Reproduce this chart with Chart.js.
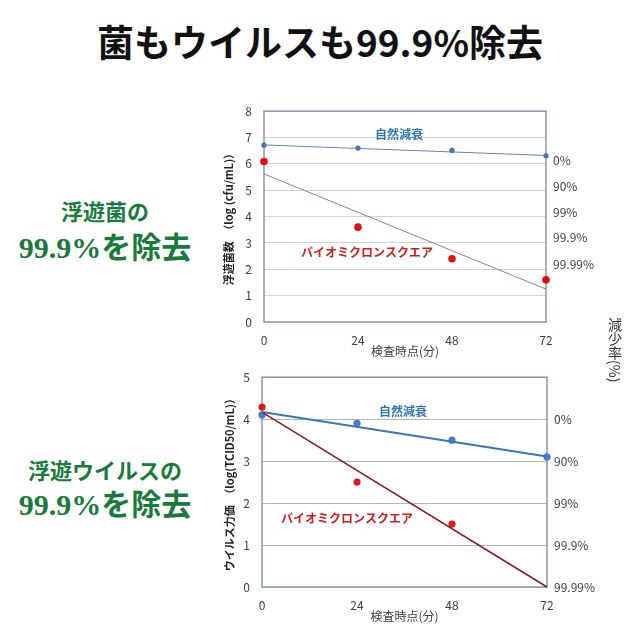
<!DOCTYPE html>
<html lang="ja">
<head>
<meta charset="utf-8">
<title>菌もウイルスも99.9%除去</title>
<script src="https://cdn.jsdelivr.net/npm/chart.js@4.4.1/dist/chart.umd.min.js"></script>
<style>
  html, body { margin: 0; padding: 0; background: #fff; }
  body { width: 640px; height: 640px; position: relative; overflow: hidden; font-family: "Noto Sans CJK JP", sans-serif; }
  .title { position: absolute; left: 0; top: 16px; width: 640px; text-align: center; font-size: 37px; font-weight: 700; line-height: 50px; color: #111; }
  .lead { position: absolute; left: 0; width: 210px; text-align: center; color: #1a7a3c; font-weight: 700; white-space: nowrap;
          font-family: "Liberation Serif", "DejaVu Serif", "Noto Sans CJK JP", serif; }
  .lead.small { font-size: 22px; line-height: 30px; }
  .lead.big { font-size: 30px; line-height: 40px; }
  .box { position: absolute; }
  .rate { position: absolute; left: 605px; top: 318px; writing-mode: vertical-rl; font-size: 14px; color: #333; }
</style>
</head>
<body>
<div class="title">菌もウイルスも99.9%除去</div>

<div class="lead small" style="top:198px">浮遊菌の</div>
<div class="lead big" style="top:228px">99.9%を除去</div>
<div class="lead small" style="top:457px">浮遊ウイルスの</div>
<div class="lead big" style="top:485px">99.9%を除去</div>

<div class="box" style="left:210px; top:92px; width:420px; height:273px;"><canvas id="bacteriaChart"></canvas></div>
<div class="box" style="left:208px; top:358px; width:420px; height:272px;"><canvas id="virusChart"></canvas></div>
<div class="rate">減少率(%)</div>

<script>
// x axis: inspection time (min)
const timePoints = [0, 24, 48, 72];
const trendEnds = [0, 72];
const reductionLabels = ['0%', '90%', '99%', '99.9%', '99.99%'];

// 浮遊菌 (log cfu/mL)
const bacNatural = [6.71, 6.60, 6.51, 6.31];
const bacNaturalTrend = [6.72, 6.32];
const bacBiomicron = [6.09, 3.60, 2.40, 1.60];
const bacBiomicronTrend = [5.62, 1.25];
const bacReductionPos = [6.15, 5.15, 4.15, 3.2, 2.2];

// 浮遊ウイルス (log TCID50/mL)
const virNatural = [4.10, 3.90, 3.50, 3.10];
const virNaturalTrend = [4.17, 3.11];
const virBiomicron = [4.29, 2.50, 1.50];
const virBiomicronTrend = [4.17, 0];
const virReductionPos = [4, 3, 2, 1, 0];

const FONT = '"Noto Sans CJK JP", "Noto Sans", sans-serif';
const TICK = '#404040';

function pts(xs, ys) {
    return ys.map((y, i) => ({ x: xs[i], y: y }));
}

// plot frame, drawn under the marks
const frame = {
    id: 'frame',
    beforeDatasetsDraw(chart, args, opts) {
        const a = chart.chartArea;
        const ctx = chart.ctx;
        ctx.save();
        ctx.strokeStyle = opts.color;
        ctx.lineWidth = 1.5;
        ctx.strokeRect(a.left, a.top, a.right - a.left, a.bottom - a.top);
        ctx.restore();
    }
};

// in-plot labels placed in data units
const annotate = {
    id: 'annotate',
    afterDatasetsDraw(chart, args, opts) {
        const { ctx, scales: { x, y } } = chart;
        ctx.save();
        ctx.font = 'bold 12px ' + FONT;
        ctx.textAlign = 'center';
        ctx.textBaseline = 'middle';
        opts.items.forEach(it => {
            ctx.fillStyle = it.color;
            ctx.fillText(it.text, x.getPixelForValue(it.x), y.getPixelForValue(it.y));
        });
        ctx.restore();
    }
};

function makeChart(id, cfg) {
    return new Chart(document.getElementById(id), {
        type: 'scatter',
        data: { datasets: cfg.datasets },
        options: {
            animation: false,
            responsive: true,
            maintainAspectRatio: false,
            layout: { padding: { top: 2, left: 0, right: 0, bottom: 0 } },
            plugins: {
                legend: { display: false },
                tooltip: { enabled: false },
                frame: { color: '#8798b0' },
                annotate: { items: cfg.notes }
            },
            scales: {
                x: {
                    type: 'linear', min: 0, max: 72,
                    afterBuildTicks: s => { s.ticks = timePoints.map(v => ({ value: v })); },
                    afterFit: s => { s.height = 43; },
                    grid: { display: false, drawTicks: false },
                    border: { display: false },
                    ticks: { color: TICK, font: { family: FONT, size: 12 }, padding: 11, autoSkip: false },
                    title: { display: true, text: '検査時点(分)', color: TICK, font: { family: FONT, size: 12 }, padding: { top: 0, bottom: 6 } }
                },
                y: {
                    min: 0, max: cfg.yMax,
                    afterFit: s => { s.width = 54; },
                    grid: { color: cfg.gridColor, drawTicks: false },
                    border: { display: false },
                    ticks: { stepSize: 1, color: TICK, font: { family: FONT, size: 12 }, padding: 12 },
                    title: { display: true, text: cfg.yTitle, color: '#222', font: { family: FONT, size: 11, weight: 'bold' }, padding: { top: cfg.yTitlePad, bottom: 0 } }
                },
                y2: {
                    position: 'right', min: 0, max: cfg.yMax,
                    afterBuildTicks: s => { s.ticks = cfg.reductionPos.map(v => ({ value: v })); },
                    afterFit: s => { s.width = cfg.rightWidth; },
                    grid: { display: false, drawTicks: false },
                    border: { display: false },
                    ticks: { autoSkip: false, color: TICK, font: { family: FONT, size: 12 }, padding: 7,
                             callback: (v, i) => reductionLabels[i] }
                }
            }
        },
        plugins: [frame, annotate]
    });
}

makeChart('bacteriaChart', {
    yMax: 8,
    gridColor: '#d2d2d2',
    yTitle: '浮遊菌数　（log (cfu/mL)）',
    yTitlePad: 12,
    rightWidth: 84,
    reductionPos: bacReductionPos,
    notes: [
        { text: '自然減衰', x: 34.5, y: 7.13, color: '#2f75b5' },
        { text: 'バイオミクロンスクエア', x: 26.3, y: 2.64, color: '#d01c1c' }
    ],
    datasets: [
        { data: pts(trendEnds, bacNaturalTrend), showLine: true, borderColor: '#5a86bd', borderWidth: 1, pointRadius: 0, clip: false },
        { data: pts(trendEnds, bacBiomicronTrend), showLine: true, borderColor: '#a07a7a', borderWidth: 1, pointRadius: 0, clip: false },
        { data: pts(timePoints, bacNatural), pointRadius: 2.6, backgroundColor: '#3f6fb5', borderWidth: 0, clip: false },
        { data: pts(timePoints, bacBiomicron), pointRadius: 3.8, backgroundColor: '#e01010', borderWidth: 0, clip: false }
    ]
});

makeChart('virusChart', {
    yMax: 5,
    gridColor: '#b4b4b4',
    yTitle: 'ウイルス力価　（log(TCID50/mL)）',
    yTitlePad: 15,
    rightWidth: 81,
    reductionPos: virReductionPos,
    notes: [
        { text: '自然減衰', x: 35.6, y: 4.19, color: '#2f75b5' },
        { text: 'バイオミクロンスクエア', x: 21.5, y: 1.63, color: '#d01c1c' }
    ],
    datasets: [
        { data: pts(trendEnds, virNaturalTrend), showLine: true, borderColor: '#3a78b5', borderWidth: 2, pointRadius: 0, clip: false },
        { data: pts(trendEnds, virBiomicronTrend), showLine: true, borderColor: '#8b1c1c', borderWidth: 1.5, pointRadius: 0, clip: false },
        { data: pts(timePoints, virNatural), pointRadius: 3.6, backgroundColor: '#4a7cc0', borderWidth: 0, clip: false },
        { data: pts(timePoints, virBiomicron), pointRadius: 3.6, backgroundColor: '#e01818', borderWidth: 0, clip: false }
    ]
});
</script>
</body>
</html>
